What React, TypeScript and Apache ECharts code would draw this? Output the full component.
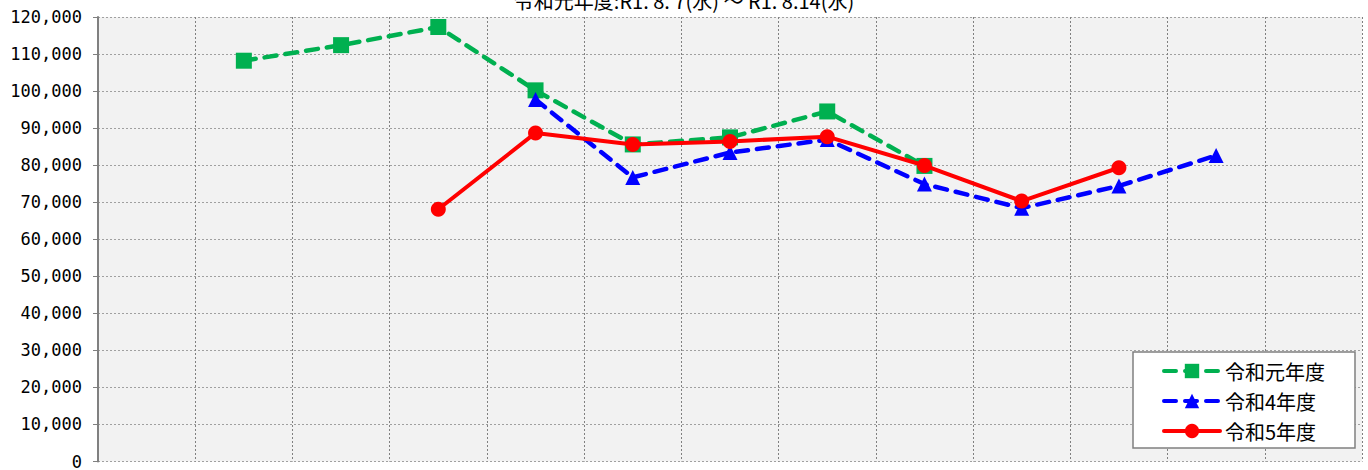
import React, { useEffect, useRef } from "react";
import * as echarts from "echarts";

const categories: string[] = ["", "", "", "", "", "", "", "", "", "", "", "", ""];
const seriesNames: string[] = ["令和元年度", "令和4年度", "令和5年度"];
const r1Values: (number | null)[] = [null, 108200, 112400, 117300, 100200, 85600, 87500, 94500, 79800, null, null, null, null];
const r4Values: (number | null)[] = [null, null, null, null, 97700, 76700, 83400, 86900, 74900, 68400, 74400, 82600, null];
const r5Values: (number | null)[] = [null, null, null, 68100, 88700, 85600, 86400, 87700, 79900, 70300, 79300, null, null];
const titleText = "令和元年度:R1. 8. 7(水) ～ R1. 8.14(水)";

export default function App() {
  const ref = useRef<HTMLDivElement>(null);
  useEffect(() => {
    if (!ref.current) return;
    const chart = echarts.init(ref.current, undefined, { renderer: "svg" });
    const dashed = [12, 9];
    chart.setOption({
      animation: false,
      backgroundColor: "#ffffff",
      title: {
        text: titleText,
        left: "center",
        top: -15,
        textStyle: { fontFamily: "Noto Sans CJK JP", fontSize: 20, fontWeight: "normal", color: "#000" },
      },
      legend: {
        left: 1133,
        top: 352,
        orient: "vertical",
        backgroundColor: "#ffffff",
        borderColor: "#808080",
        borderWidth: 1.5,
        borderRadius: 0,
        padding: [9, 30, 7, 29],
        itemGap: 10,
        itemWidth: 56,
        itemHeight: 18,
        lineStyle: { width: 4, type: "inherit", cap: "round" },
        textStyle: { fontFamily: "Noto Sans CJK JP", fontSize: 20, color: "#000" },
        data: seriesNames,
      },
      grid: {
        left: 98,
        top: 17,
        right: 6,
        bottom: 7,
        show: true,
        backgroundColor: "#f2f2f2",
        borderWidth: 0,
      },
      xAxis: {
        type: "category",
        data: categories,
        boundaryGap: true,
        axisLine: { show: false },
        axisTick: { show: false },
        axisLabel: { show: false },
        splitLine: { show: true, lineStyle: { color: "#808080", type: [2, 2], width: 1 } },
      },
      yAxis: {
        type: "value",
        min: 0,
        max: 120000,
        interval: 10000,
        axisLine: { show: true, lineStyle: { color: "#808080", width: 2 } },
        axisTick: { show: true, length: 5, lineStyle: { color: "#808080", width: 1 } },
        axisLabel: {
          margin: 16,
          fontFamily: "DejaVu Sans Mono",
          fontSize: 17,
          color: "#000",
          formatter: (v: number) => v.toLocaleString("en-US"),
        },
        splitLine: { show: true, lineStyle: { color: "#a0a0a0", type: [2, 2], width: 1 } },
      },
      series: [
        {
          name: seriesNames[0],
          type: "line",
          data: r1Values,
          color: "#00b050",
          symbol: "rect",
          symbolSize: 16,
          connectNulls: false,
          lineStyle: { color: "#00b050", width: 4.5, type: dashed, cap: "round" },
          itemStyle: { color: "#00b050" },
          z: 2,
        },
        {
          name: seriesNames[1],
          type: "line",
          data: r4Values,
          color: "#0000ff",
          symbol: "triangle",
          symbolSize: 15,
          lineStyle: { color: "#0000ff", width: 4.5, type: dashed, cap: "round" },
          itemStyle: { color: "#0000ff" },
          z: 3,
        },
        {
          name: seriesNames[2],
          type: "line",
          data: r5Values,
          color: "#ff0000",
          symbol: "circle",
          symbolSize: 15,
          lineStyle: { color: "#ff0000", width: 4, type: "solid", cap: "round" },
          itemStyle: { color: "#ff0000" },
          z: 4,
        },
      ],
    });
    return () => chart.dispose();
  }, []);
  return <div ref={ref} style={{ position: "fixed", left: 0, top: 0, width: 1368, height: 470 }} />;
}
